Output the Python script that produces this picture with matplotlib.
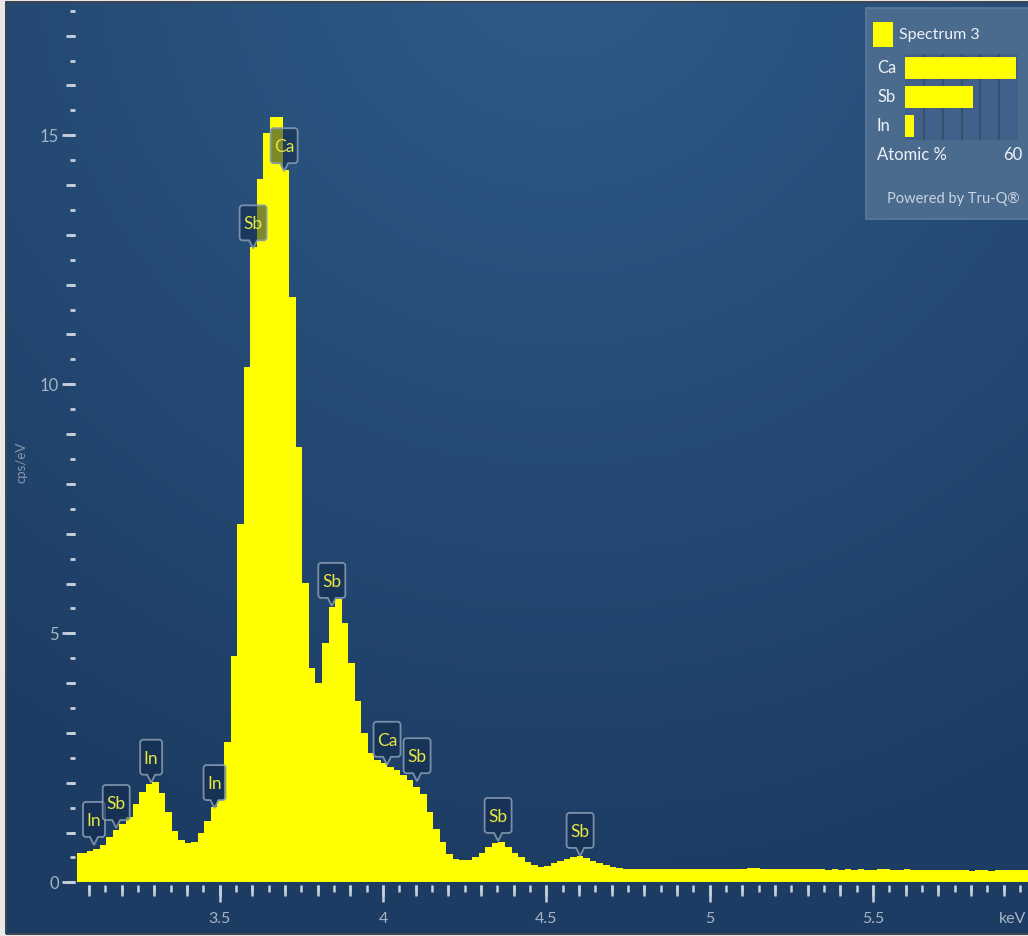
import numpy as np
import matplotlib
matplotlib.use("Agg")
import matplotlib.pyplot as plt
from matplotlib.patches import Rectangle, PathPatch
from matplotlib.path import Path
import matplotlib.transforms as mtransforms
from matplotlib.ticker import MultipleLocator, FixedLocator, NullLocator

plt.rcParams['font.family'] = ['Lato', 'DejaVu Sans']

# ---------------- data ----------------
channel_start_kev = 3.053
channel_width_kev = 0.02
counts = [
    0.58, 0.58, 0.62, 0.66, 0.74, 0.90, 1.06, 1.18, 1.31, 1.58,
    1.81, 1.98, 2.01, 1.79, 1.41, 1.04, 0.84, 0.78, 0.81, 0.98,
    1.23, 1.51, 1.66, 2.81, 4.54, 7.20, 10.34, 12.75, 14.13, 15.04,
    15.36, 15.36, 14.30, 11.75, 8.74, 6.02, 4.30, 4.00, 4.80, 5.53,
    5.68, 5.20, 4.40, 3.65, 2.99, 2.60, 2.46, 2.39, 2.31, 2.25,
    2.15, 2.05, 1.91, 1.78, 1.42, 1.08, 0.81, 0.56, 0.46, 0.44,
    0.44, 0.50, 0.59, 0.71, 0.78, 0.81, 0.71, 0.59, 0.50, 0.41,
    0.34, 0.31, 0.32, 0.38, 0.42, 0.46, 0.50, 0.52, 0.48, 0.42,
    0.38, 0.34, 0.30, 0.28, 0.27, 0.27,
    0.27, 0.27, 0.26, 0.27, 0.26, 0.26, 0.27, 0.26, 0.26, 0.27,
    0.26, 0.27, 0.26, 0.27, 0.27, 0.26, 0.27, 0.29, 0.28, 0.26,
    0.26, 0.27, 0.26, 0.26, 0.27, 0.26, 0.27, 0.26, 0.26, 0.25,
    0.26, 0.25, 0.26, 0.25, 0.27, 0.25, 0.24, 0.26, 0.26, 0.25,
    0.25, 0.26, 0.25, 0.24, 0.25, 0.24, 0.24, 0.25, 0.24, 0.24,
    0.24, 0.23, 0.24, 0.24, 0.23, 0.24, 0.25, 0.24, 0.24, 0.25, 0.24,
]

callout_labels = ['In', 'Sb', 'In', 'In', 'Sb', 'Ca', 'Sb', 'Ca', 'Sb', 'Sb', 'Sb']
callout_kev = [3.115, 3.183, 3.290, 3.484, 3.602, 3.697, 3.843, 4.012, 4.104, 4.352, 4.603]
callout_cps = [0.75, 1.09, 2.00, 1.49, 12.73, 14.28, 5.55, 2.36, 2.03, 0.83, 0.53]

x_major_ticks = [3.5, 4.0, 4.5, 5.0, 5.5]
x_tick_labels = ['3.5', '4', '4.5', '5', '5.5']
y_major_ticks = [0, 5, 10, 15]
y_tick_labels = ['0', '5', '10', '15']
x_unit = 'keV'
y_unit = 'cps/eV'

spectrum_name = 'Spectrum 3'
legend_elements = ['Ca', 'Sb', 'In']
legend_atomic_pct = [59, 36, 5]
legend_scale_max = 60
legend_footer = 'Powered by Tru-Q®'

# ---------------- figure ----------------
W, H, DPI = 1028, 936, 100
fig = plt.figure(figsize=(W / DPI, H / DPI), dpi=DPI, facecolor='#e8e8e8')


def fx(px):
    return px / W


def fy(py):
    return 1 - py / H


# background gradient panel
bg = fig.add_axes([fx(7), fy(933), 1 - fx(7), (933 - 3) / H], zorder=-10)
gx = np.arange(7, W)
gy = np.arange(3, 933)
GX, GY = np.meshgrid(gx, gy)
d = np.sqrt((GX - 560) ** 2 + (GY + 60) ** 2)
t = np.clip(d / 950, 0, 1) ** 1.1
c0 = np.array([0x2d, 0x5b, 0x88]) / 255
c1 = np.array([0x1d, 0x3c, 0x63]) / 255
img = c0[None, None, :] * (1 - t[..., None]) + c1[None, None, :] * t[..., None]
bg.imshow(img, aspect='auto', interpolation='bilinear')
bg.set_axis_off()
fig.add_artist(Rectangle((fx(6), fy(934)), 1 - fx(6) + 0.01, (934 - 2) / H,
                         transform=fig.transFigure, fill=False,
                         ec='#1a2533', lw=1.2, zorder=-9))

# main axes
y_top = (882.3 - 2) / 49.8
rect = [fx(77), fy(882.3), (W - 77) / W, (882.3 - 2) / H]
ax = fig.add_axes(rect, zorder=2)
ax.patch.set_alpha(0)
edges = channel_start_kev + channel_width_kev * np.arange(len(counts) + 1)
ax.stairs(counts, edges, fill=True, color='#ffff00', lw=0, zorder=2)
ax.set_xlim(3.063, 5.974)
ax.set_ylim(0, y_top)

tick_c = '#c6d0dc'
lab_c = '#a6b4c4'
ax.xaxis.set_major_locator(FixedLocator(x_major_ticks))
ax.set_xticklabels(x_tick_labels)
ax.xaxis.set_minor_locator(MultipleLocator(0.05))
ax.yaxis.set_major_locator(FixedLocator(y_major_ticks))
ax.set_yticklabels(y_tick_labels)
ax.yaxis.set_minor_locator(MultipleLocator(0.5))
ax.tick_params(axis='x', which='major', length=12.2, width=1.8, color=tick_c,
               pad=7.5, labelsize=11.5, labelcolor=lab_c)
ax.tick_params(axis='x', which='minor', length=5.0, width=1.8, color=tick_c)
ax.tick_params(axis='y', which='major', length=9.4, width=2.0, color=tick_c,
               pad=2.2, labelsize=12, labelcolor=lab_c)
ax.tick_params(axis='y', which='minor', length=3.6, width=2.0, color=tick_c)
for s in ax.spines.values():
    s.set_visible(False)
ax.spines['bottom'].set_position(('outward', 2))
ax.spines['left'].set_position(('outward', 1.5))

# mid-level ticks
axm = fig.add_axes(rect, zorder=1)
axm.patch.set_alpha(0)
axm.set_xlim(ax.get_xlim())
axm.set_ylim(ax.get_ylim())
axm.xaxis.set_major_locator(MultipleLocator(0.1))
axm.yaxis.set_major_locator(MultipleLocator(1))
axm.xaxis.set_minor_locator(NullLocator())
axm.yaxis.set_minor_locator(NullLocator())
axm.tick_params(axis='x', length=7.9, width=1.8, color=tick_c, labelbottom=False)
axm.tick_params(axis='y', length=6.5, width=2.0, color=tick_c, labelleft=False)
for s in axm.spines.values():
    s.set_visible(False)
axm.spines['bottom'].set_position(('outward', 2))
axm.spines['left'].set_position(('outward', 1.5))

fig.text(fx(1026), fy(919), x_unit, ha='right', va='center', fontsize=11.5, color=lab_c)
fig.text(fx(21), fy(462), y_unit, ha='center', va='center', rotation=90,
         fontsize=9.5, color='#8797ab')


# callouts
def callout_path(w, h=35.0, p=8.0, pw=4.0, r=3.0):
    s = 1.0 / DPI
    v = [(0, 0), (pw, p), (w / 2 - r, p), (w / 2, p), (w / 2, p + r),
         (w / 2, p + h - r), (w / 2, p + h), (w / 2 - r, p + h),
         (-w / 2 + r, p + h), (-w / 2, p + h), (-w / 2, p + h - r),
         (-w / 2, p + r), (-w / 2, p), (-w / 2 + r, p), (-pw, p), (0, 0)]
    c = [Path.MOVETO, Path.LINETO, Path.LINETO, Path.CURVE3, Path.CURVE3,
         Path.LINETO, Path.CURVE3, Path.CURVE3, Path.LINETO, Path.CURVE3,
         Path.CURVE3, Path.LINETO, Path.CURVE3, Path.CURVE3, Path.LINETO,
         Path.CLOSEPOLY]
    return Path([(a * s, b * s) for a, b in v], c)


for lab, e, v in zip(callout_labels, callout_kev, callout_cps):
    w = 22.0 if lab == 'In' else 27.0
    tr = fig.dpi_scale_trans + mtransforms.ScaledTranslation(e, v, ax.transData)
    patch = PathPatch(callout_path(w), transform=tr, fc=(0.07, 0.16, 0.29, 0.55),
                      ec=(0.52, 0.60, 0.69, 0.9), lw=1.3, clip_on=False, zorder=5)
    ax.add_artist(patch)
    ax.annotate(lab, xy=(e, v), xytext=(0, (8 + 17.5) * 72 / DPI),
                textcoords='offset points', ha='center', va='center_baseline',
                fontsize=12.5, color='#e8e640', zorder=6, annotation_clip=False)

# legend panel
fig.add_artist(Rectangle((fx(866), fy(219)), 1 - fx(866) + 0.01, (219 - 8) / H,
                         transform=fig.transFigure, fc='#4a6a8e', ec='#5b7a9d',
                         lw=1.2, zorder=8))
fig.add_artist(Rectangle((fx(873), fy(47)), (893 - 873) / W, (47 - 22) / H,
                         transform=fig.transFigure, fc='#ffff00', ec='none', zorder=9))
fig.text(fx(899), fy(35), spectrum_name, ha='left', va='center', fontsize=11.5,
         color='#eef2f6', zorder=10)

lax = fig.add_axes([fx(905), fy(140), (1018 - 905) / W, (140 - 54) / H], zorder=9)
lax.set_facecolor('#42618a')
lax.barh(range(len(legend_elements)), legend_atomic_pct, height=0.77,
         color='#ffff00', zorder=3)
lax.set_xlim(0, legend_scale_max)
lax.set_ylim(len(legend_elements) - 0.5, -0.5)
for gxv in range(10, legend_scale_max, 10):
    lax.axvline(gxv, color='#34516f', lw=1.5, zorder=1)
lax.set_xticks([])
lax.set_yticks([])
for s in lax.spines.values():
    s.set_visible(False)
for i, el in enumerate(legend_elements):
    fig.text(fx(877), fy(68 + 29 * i), el, ha='left', va='center', fontsize=12,
             color='#eef2f6', zorder=10)
fig.text(fx(877), fy(155), 'Atomic %', ha='left', va='center', fontsize=12,
         color='#eef2f6', zorder=10)
fig.text(fx(1022), fy(155), str(legend_scale_max), ha='right', va='center',
         fontsize=12, color='#eef2f6', zorder=10)
fig.text(fx(1020), fy(199), legend_footer, ha='right', va='center', fontsize=10.5,
         color='#c9d5e2', zorder=10)

fig.savefig('out.png', dpi=DPI, facecolor=fig.get_facecolor())
